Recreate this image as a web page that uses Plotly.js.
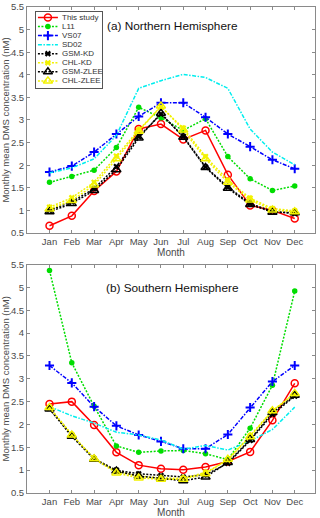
<!DOCTYPE html>
<html>
<head>
<meta charset="utf-8">
<script src="https://cdn.plot.ly/plotly-3.0.1.min.js"></script>
<style>
  html, body { margin: 0; padding: 0; background: #fff; }
  #chart { width: 320px; height: 518px; }
</style>
</head>
<body>
<div id="chart"></div>
<script>
// months on the x axis
const months = ['Jan','Feb','Mar','Apr','May','Jun','Jul','Aug','Sep','Oct','Nov','Dec'];
const yTicks = [0.5,1,1.5,2,2.5,3,3.5,4,4.5,5,5.5];
const seriesNames = ['This study','L11','VS07','SD02','GSM-KD','CHL-KD','GSM-ZLEE','CHL-ZLEE'];

// (a) Northern Hemisphere, monthly mean DMS (nM)
const nhThisStudy = [0.66,0.88,1.43,1.86,2.80,2.91,2.57,2.77,1.79,1.11,1.00,0.82];
const nhL11       = [1.62,1.75,1.89,2.39,3.28,3.05,2.77,3.03,2.19,1.70,1.44,1.54];
const nhVS07      = [1.85,1.98,2.29,2.69,3.08,3.38,3.38,3.06,2.69,2.41,2.12,1.92];
const nhSD02      = [1.83,1.94,2.14,2.66,3.70,3.87,4.01,3.94,3.70,2.80,2.29,2.01];
const nhGSMKD     = [1.00,1.19,1.48,1.97,2.63,3.13,2.64,1.96,1.52,1.15,0.98,0.93];
const nhCHLKD     = [1.07,1.28,1.62,2.20,2.78,3.29,2.82,2.19,1.67,1.27,1.04,0.99];
const nhGSMZLEE   = [0.97,1.15,1.44,1.90,2.60,3.15,2.62,1.95,1.49,1.13,0.96,0.95];
const nhCHLZLEE   = [1.03,1.22,1.56,2.14,2.75,3.31,2.78,2.14,1.62,1.23,1.01,0.97];

// (b) Southern Hemisphere
const shThisStudy = [2.45,2.50,1.99,1.39,1.11,1.03,1.01,1.07,1.19,1.40,2.09,2.90];
const shL11       = [5.37,3.35,2.40,1.53,1.39,1.42,1.43,1.36,1.23,1.92,2.86,4.92];
const shVS07      = [3.29,2.91,2.39,1.97,1.77,1.63,1.47,1.47,1.78,2.37,2.94,3.29];
const shSD02      = [2.39,2.19,2.03,1.83,1.77,1.66,1.46,1.54,1.44,1.64,1.89,2.38];
const shGSMKD     = [2.35,1.76,1.25,1.00,0.92,0.88,0.85,0.90,1.15,1.65,2.22,2.62];
const shCHLKD     = [2.37,1.78,1.26,0.97,0.87,0.83,0.82,0.95,1.22,1.75,2.30,2.67];
const shGSMZLEE   = [2.34,1.74,1.24,0.98,0.87,0.82,0.77,0.85,1.17,1.67,2.26,2.64];
const shCHLZLEE   = [2.37,1.77,1.25,0.94,0.83,0.80,0.80,0.92,1.24,1.73,2.30,2.68];

const north = [nhThisStudy,nhL11,nhVS07,nhSD02,nhGSMKD,nhCHLKD,nhGSMZLEE,nhCHLZLEE];
const south = [shThisStudy,shL11,shVS07,shSD02,shGSMKD,shCHLKD,shGSMZLEE,shCHLZLEE];

function getStyle(name){
  return {
    'This study': {color:'#ff0000', dash:'solid',         mode:'lines+markers', marker:{symbol:'circle-open', size:7, line:{width:1.5}}},
    'L11':        {color:'#00dd00', dash:'2px,1.5px',     mode:'lines+markers', marker:{symbol:'circle', size:5.5}},
    'VS07':       {color:'#0000ff', dash:'4px,1.5px,1.5px,1.5px', mode:'lines+markers', marker:{symbol:'cross-thin-open', size:6.5, line:{width:2}}},
    'SD02':       {color:'#00eeee', dash:'4px,1.5px,1.5px,1.5px', mode:'lines', marker:{size:0}},
    'GSM-KD':     {color:'#000000', dash:'2px,1.5px',     mode:'lines+markers', marker:{symbol:'x', size:5.5}},
    'CHL-KD':     {color:'#f2f200', dash:'2px,1.5px',     mode:'lines+markers', marker:{symbol:'x', size:5.5}},
    'GSM-ZLEE':   {color:'#000000', dash:'2px,1.5px',     mode:'lines+markers', marker:{symbol:'triangle-up-open', size:8, line:{width:1.5}}},
    'CHL-ZLEE':   {color:'#f2f200', dash:'2px,1.5px',     mode:'lines+markers', marker:{symbol:'triangle-up-open', size:8, line:{width:1.5}}}
  }[name];
}

function getTrace(name, values, xa, ya){
  const s = getStyle(name);
  const marker = Object.assign({color:s.color}, s.marker);
  if (marker.line) marker.line = Object.assign({color:s.color}, marker.line);
  return {
    type:'scatter', mode:s.mode, name:name, showlegend:false,
    x:months, y:values, xaxis:xa, yaxis:ya,
    line:{color:s.color, width:1.5, dash:s.dash},
    marker:marker
  };
}

let data = [];
seriesNames.forEach((n,i) => data.push(getTrace(n, north[i], 'x', 'y')));
seriesNames.forEach((n,i) => data.push(getTrace(n, south[i], 'x2', 'y2')));

// hand-made legend box (MATLAB-style compact legend), one row per series
const legendAnn = [];
seriesNames.forEach((n,i) => {
  const s = getStyle(n);
  data.push({type:'scatter', mode:'lines', x:[2,22], y:[i,i], xaxis:'x3', yaxis:'y3',
    showlegend:false, hoverinfo:'skip', line:{color:s.color, width:1.5, dash:s.dash}});
  if (s.mode !== 'lines') {
    const marker = Object.assign({color:s.color}, s.marker);
    if (marker.line) marker.line = Object.assign({color:s.color}, marker.line);
    data.push({type:'scatter', mode:'markers', x:[12], y:[i], xaxis:'x3', yaxis:'y3',
      showlegend:false, hoverinfo:'skip', marker:marker});
  }
  legendAnn.push({text:n, x:24.5, y:i, xref:'x3', yref:'y3', xanchor:'left', yanchor:'middle',
    showarrow:false, font:{size:8, color:'#333', family:'Liberation Sans, Arial, sans-serif'}});
});

const axisColor = '#8a8a8a';
function xAxis(domainAnchor){
  return {
    anchor:domainAnchor, type:'category', range:[-1.01, 11.91],
    tickvals:months, ticktext:months,
    ticks:'inside', ticklen:3, tickcolor:axisColor,
    showline:true, linecolor:axisColor, linewidth:1, mirror:'allticks',
    showgrid:false, zeroline:false,
    tickfont:{size:9.5, color:'#4a4a4a'},
    title:{text:'Month', font:{size:10, color:'#4a4a4a'}, standoff:2}
  };
}
function yAxis(anchor, domain){
  return {
    anchor:anchor, domain:domain, range:[0.5, 5.5],
    tickvals:yTicks, ticktext:yTicks.map(v => String(v)),
    ticks:'inside', ticklen:3, tickcolor:axisColor,
    showline:true, linecolor:axisColor, linewidth:1, mirror:'allticks',
    showgrid:false, zeroline:false,
    tickfont:{size:9.5, color:'#4a4a4a'},
    title:{text:'Monthly mean DMS concentration (nM)', font:{size:9.5, color:'#4a4a4a'}, standoff:3}
  };
}

const layout = {
  width:320, height:518,
  margin:{l:27, r:5, t:7, b:25},
  paper_bgcolor:'#fff', plot_bgcolor:'rgba(0,0,0,0)',
  font:{family:'Liberation Sans, Arial, sans-serif'},
  showlegend:false,
  xaxis:xAxis('y'),
  yaxis:yAxis('x', [0.535, 1]),
  xaxis2:xAxis('y2'),
  yaxis2:yAxis('x2', [0, 0.47]),
  xaxis3:{anchor:'y3', domain:[0.031, 0.26], range:[0, 66], showline:true, mirror:true,
    linecolor:'#555', linewidth:1, showgrid:false, zeroline:false, showticklabels:false, ticks:''},
  yaxis3:{anchor:'x3', domain:[0.833, 0.990], range:[7.8, -0.62], showline:true, mirror:true,
    linecolor:'#555', linewidth:1, showgrid:false, zeroline:false, showticklabels:false, ticks:''},
  annotations:[
    {text:'(a) Northern Hemisphere', xref:'x domain', yref:'y domain', x:0.505, y:0.956,
      showarrow:false, font:{size:11.8, color:'#111'}},
    {text:'(b) Southern Hemisphere', xref:'x2 domain', yref:'y2 domain', x:0.505, y:0.937,
      showarrow:false, font:{size:11.8, color:'#111'}}
  ].concat(legendAnn)
};

Plotly.newPlot('chart', data, layout, {staticPlot:true, displayModeBar:false});
</script>
</body>
</html>
